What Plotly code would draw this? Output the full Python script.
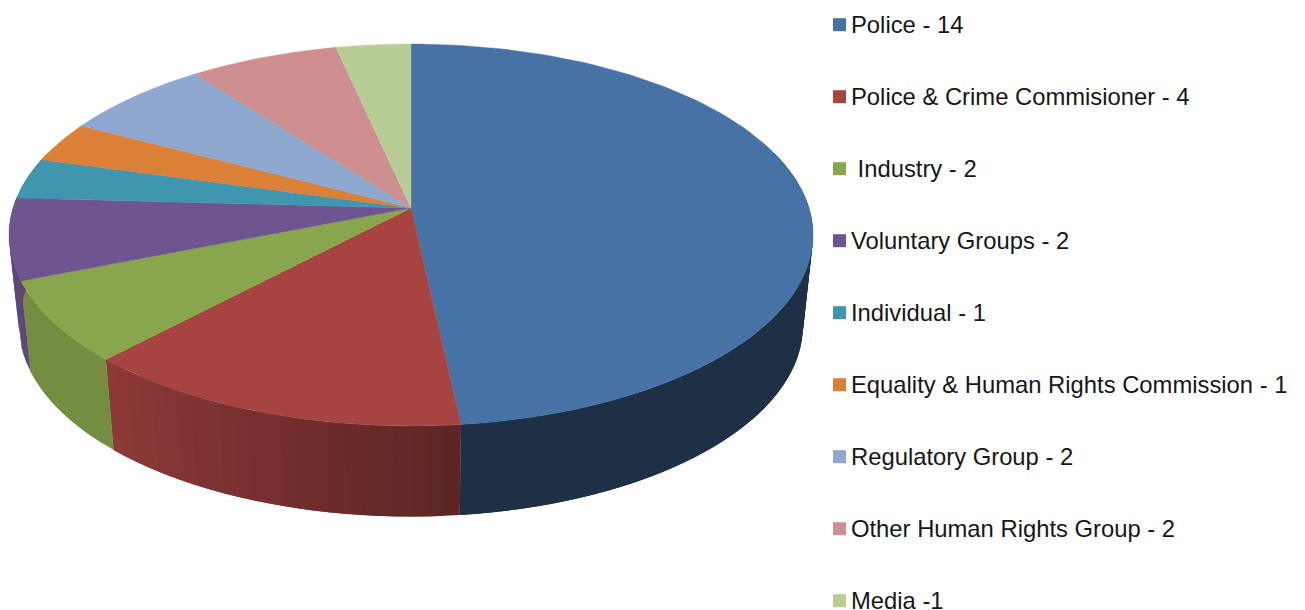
import numpy as np
import plotly.graph_objects as go

# ---- data ----
labels = ["Police - 14", "Police & Crime Commisioner - 4", "\u00a0Industry - 2",
          "Voluntary Groups - 2", "Individual - 1",
          "Equality & Human Rights Commission - 1", "Regulatory Group - 2",
          "Other Human Rights Group - 2", "Media -1"]
values = [14, 4, 2, 2, 1, 1, 2, 2, 1]
colors = ["#4672A6", "#A74442", "#8AA64C", "#6F5590", "#3F96AE",
          "#DA8137", "#8FA8D0", "#CD8F8F", "#B8CD95"]
# wall shading at the start and end of each slice (clockwise)
shade_start = [0.42, 0.55, 0.85, 0.85, 0.8, 0.8, 0.8, 0.8, 0.8]
shade_end = [0.42, 0.85, 0.85, 0.85, 0.8, 0.8, 0.8, 0.8, 0.8]

# ---- projection of the 3-D disc onto the page (in page pixels) ----
CX, APEX_Y, R = 411.0, 208.0, 398.0
PERSP = 0.1414
Y_A = -157.8
WALL_H = 90.5
WALL_SX = 0.975


def top_xy(theta):
    v = np.cos(theta)
    d = 1 + PERSP * v
    return CX + R * np.sin(theta) / d, (Y_A * v + APEX_Y) / d


def bot_xy(theta):
    x, y = top_xy(theta)
    return CX + WALL_SX * (x - CX), y + WALL_H


def rgb(hex_color, f):
    r, g, b = (int(hex_color[i:i + 2], 16) for i in (1, 3, 5))
    return f"rgb({r * f:.0f},{g * f:.0f},{b * f:.0f})"


fig = go.Figure()


def poly(xs, ys, color, width=0.0):
    fig.add_trace(go.Scatter(x=xs, y=ys, mode="lines", fill="toself", fillcolor=color,
                             line=dict(color=color, width=width), hoverinfo="skip",
                             showlegend=False))


fracs = np.cumsum([0] + values) / sum(values) * 2 * np.pi

# walls: each band runs on under the next one so no seams show
for i in range(len(values)):
    a, b = fracs[i], fracs[i + 1]
    lo, hi = max(a, np.pi * 0.40), min(b, np.pi * 1.60)
    if hi <= lo:
        continue
    steps = max(6, int((hi - lo) / (np.pi / 90)))
    edges = np.linspace(lo, hi, steps + 1)
    for j in range(steps):
        end = edges[min(j + 2, steps)]
        t = np.linspace(edges[j], end, 8)
        tx, ty = top_xy(t)
        bx, by = bot_xy(t)
        frac = ((edges[j] + edges[j + 1]) / 2 - a) / (b - a)
        f = shade_start[i] + (shade_end[i] - shade_start[i]) * frac
        poly(np.r_[tx, bx[::-1]], np.r_[ty, by[::-1]], rgb(colors[i], f))

# top wedges
for i in range(len(values)):
    t = np.linspace(fracs[i], fracs[i + 1], 120)
    tx, ty = top_xy(t)
    poly(np.r_[CX, tx, CX], np.r_[APEX_Y, ty, APEX_Y], colors[i], 0.4)

# legend
LEG_Y0, LEG_DY = 24.7, 72.0
LEG_MX, LEG_TX = 839.5, 849.4
for i, (lab, col) in enumerate(zip(labels, colors)):
    yy = LEG_Y0 + LEG_DY * i
    fig.add_trace(go.Scatter(x=[LEG_MX], y=[yy], mode="markers", name=lab,
                             marker=dict(symbol="square", size=13, color=col),
                             showlegend=False))
    fig.add_annotation(x=LEG_TX, y=yy, xref="x", yref="y", text=lab, showarrow=False,
                       xanchor="left", yanchor="middle",
                       font=dict(family="Liberation Sans", size=23.8, color="#161616"))

fig.update_layout(
    width=1305, height=610, margin=dict(l=0, r=0, t=0, b=0),
    paper_bgcolor="white", plot_bgcolor="white", showlegend=False,
    xaxis=dict(range=[0, 1305], visible=False, fixedrange=True),
    yaxis=dict(range=[610, 0], visible=False, fixedrange=True),
)
fig.write_html("out.html", config=dict(displayModeBar=False),
               post_script="document.body.style.margin='0';document.body.style.overflow='hidden';")
